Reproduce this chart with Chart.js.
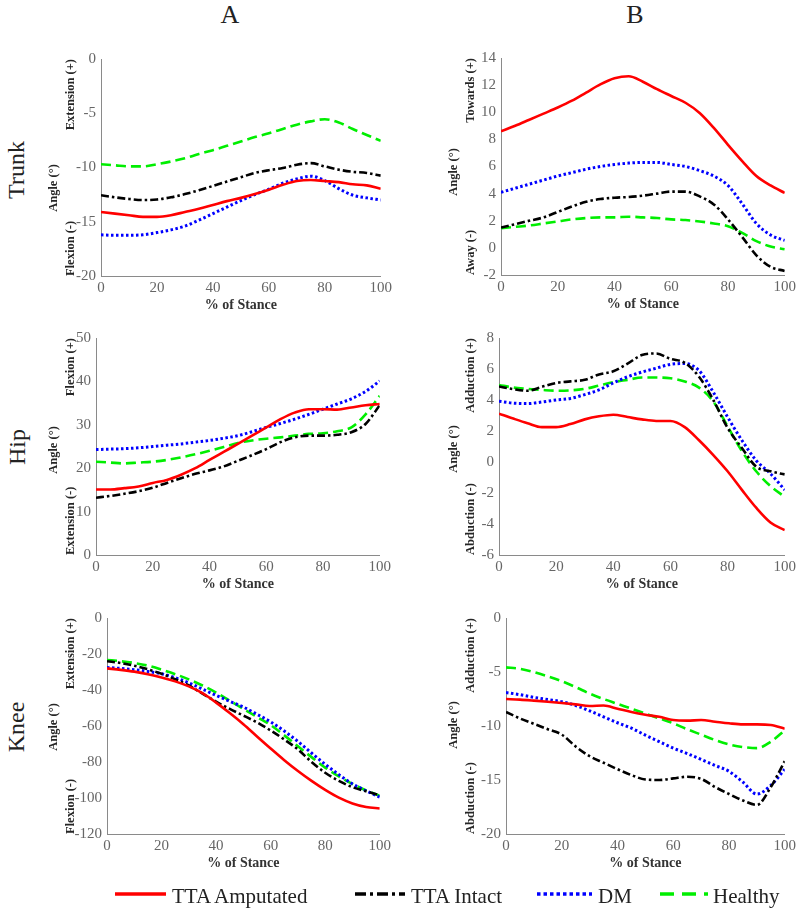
<!DOCTYPE html>
<html>
<head>
<meta charset="utf-8">
<script src="https://cdn.jsdelivr.net/npm/chart.js@4"></script>
<style>
    body { margin: 0; background: #fff; }
    #page { position: relative; width: 800px; height: 909px; overflow: hidden; font-family: 'Liberation Serif', 'Times New Roman', serif; }
    #page canvas { position: absolute; }
    .hdr { position: absolute; font-size: 26px; color: #222; transform: translate(-50%, -50%); white-space: nowrap; }
    .row { position: absolute; font-size: 24px; color: #222; transform: translate(-50%, -50%) rotate(-90deg); white-space: nowrap; }
    .leg { position: absolute; font-size: 21px; color: #222; line-height: 24px; white-space: nowrap; }
</style>
</head>
<body>
<div id="page"></div>
<script>
// x positions (% of stance)
const stance = [0, 5, 10, 15, 20, 25, 30, 35, 40, 45, 50, 55, 60, 65, 70, 75, 80, 85, 90, 95, 100];
const xTicks = [0, 20, 40, 60, 80, 100];

const seriesNames = ['TTA Amputated', 'TTA Intact', 'DM', 'Healthy'];

// Trunk - A (sagittal)
const trunkA_amp = [-14.1, -14.25, -14.4, -14.55, -14.55, -14.4, -14.1, -13.8, -13.45, -13.1, -12.8, -12.45, -12.05, -11.6, -11.25, -11.15, -11.25, -11.35, -11.55, -11.65, -11.95];
const trunkA_int = [-12.55, -12.75, -12.9, -13.0, -12.95, -12.75, -12.45, -12.1, -11.7, -11.3, -10.9, -10.5, -10.25, -10.05, -9.75, -9.6, -9.9, -10.2, -10.4, -10.5, -10.75];
const trunkA_dm = [-16.2, -16.25, -16.25, -16.2, -16.0, -15.75, -15.4, -14.85, -14.25, -13.65, -13.05, -12.5, -12.0, -11.45, -11.05, -10.8, -11.2, -11.95, -12.55, -12.8, -13.0];
const trunkA_healthy = [-9.7, -9.8, -9.9, -9.9, -9.7, -9.45, -9.15, -8.75, -8.4, -8.0, -7.6, -7.2, -6.85, -6.45, -6.05, -5.75, -5.55, -5.85, -6.45, -7.0, -7.55];

// Trunk - B (frontal)
const trunkB_amp = [8.6, 9.0, 9.45, 9.9, 10.35, 10.85, 11.45, 12.05, 12.5, 12.65, 12.25, 11.7, 11.2, 10.7, 9.95, 8.85, 7.6, 6.4, 5.3, 4.6, 4.05];
const trunkB_int = [1.5, 1.75, 2.0, 2.25, 2.65, 3.05, 3.4, 3.6, 3.7, 3.75, 3.85, 4.0, 4.15, 4.15, 3.8, 3.2, 2.1, 0.8, -0.55, -1.4, -1.7];
const trunkB_dm = [4.1, 4.4, 4.7, 5.0, 5.3, 5.55, 5.8, 6.0, 6.15, 6.25, 6.3, 6.3, 6.15, 6.0, 5.7, 5.3, 4.6, 3.25, 1.8, 0.95, 0.55];
const trunkB_healthy = [1.45, 1.55, 1.65, 1.8, 1.95, 2.1, 2.2, 2.25, 2.25, 2.3, 2.25, 2.2, 2.1, 2.05, 1.95, 1.8, 1.6, 1.1, 0.5, 0.1, -0.1];

// Hip - A
const hipA_amp = [15.1, 15.1, 15.4, 15.8, 16.6, 17.3, 18.5, 20.0, 21.9, 23.75, 25.6, 27.5, 29.4, 31.3, 32.8, 33.6, 33.6, 33.5, 34.0, 34.5, 34.8];
const hipA_int = [13.2, 13.6, 14.1, 14.7, 15.5, 16.6, 17.7, 18.7, 19.5, 20.4, 21.7, 23.0, 24.4, 26.0, 27.1, 27.5, 27.5, 27.7, 28.3, 30.2, 34.5];
const hipA_dm = [24.3, 24.4, 24.5, 24.7, 25.0, 25.3, 25.6, 26.0, 26.4, 26.9, 27.5, 28.4, 29.4, 30.3, 31.3, 32.4, 33.6, 34.8, 36.0, 37.7, 40.1];
const hipA_healthy = [21.5, 21.3, 21.1, 21.3, 21.5, 21.9, 22.5, 23.2, 24.0, 24.9, 25.8, 26.4, 26.8, 27.1, 27.5, 27.9, 28.05, 28.5, 29.4, 32.4, 36.7];

// Hip - B
const hipB_amp = [3.12, 2.8, 2.5, 2.25, 2.25, 2.45, 2.75, 2.95, 3.05, 2.9, 2.75, 2.65, 2.65, 2.25, 1.4, 0.45, -0.6, -1.8, -2.95, -3.9, -4.4];
const hipB_int = [4.87, 4.7, 4.6, 4.85, 5.1, 5.2, 5.3, 5.65, 5.85, 6.35, 6.9, 7.0, 6.65, 6.4, 5.5, 4.0, 2.2, 0.9, -0.3, -0.6, -0.8];
const hipB_dm = [3.92, 3.8, 3.77, 3.87, 4.0, 4.1, 4.35, 4.65, 5.1, 5.5, 5.8, 6.05, 6.3, 6.35, 5.9, 4.5, 2.9, 1.4, 0.1, -0.75, -1.8];
const hipB_healthy = [4.97, 4.8, 4.72, 4.65, 4.6, 4.62, 4.72, 4.93, 5.15, 5.3, 5.45, 5.45, 5.4, 5.2, 4.8, 3.9, 2.3, 0.7, -0.6, -1.55, -2.25];

// Knee - A
const kneeA_amp = [-28, -28.8, -29.8, -31.2, -33, -35.2, -38, -41.8, -47, -52.8, -59, -65.8, -72.5, -79, -85, -90.5, -95.5, -99.8, -103, -105, -105.8];
const kneeA_int = [-24, -25, -26.5, -28.5, -31, -34, -37.5, -42, -46.5, -50.5, -54.2, -58, -62.5, -67.5, -73, -80, -86, -90.5, -94, -96.3, -98.5];
const kneeA_dm = [-27.5, -28, -28.7, -29.7, -31, -33.2, -36, -39.5, -43, -46.3, -49.5, -53.5, -57.7, -62.8, -68.6, -75, -81.3, -87, -92.2, -96, -99.5];
const kneeA_healthy = [-23.3, -24, -25, -26.5, -28.7, -31.2, -34.1, -37.5, -41.4, -46, -50.5, -55, -59.5, -65.2, -71.3, -77.3, -83.1, -88, -92.2, -95.8, -98.8];

// Knee - B
const kneeB_amp = [-7.5, -7.56, -7.65, -7.75, -7.87, -8.0, -8.15, -8.1, -8.4, -8.7, -8.95, -9.15, -9.45, -9.5, -9.45, -9.6, -9.75, -9.85, -9.85, -9.9, -10.25];
const kneeB_int = [-8.7, -9.3, -9.8, -10.3, -10.8, -11.9, -12.8, -13.4, -14.0, -14.55, -14.95, -15.0, -14.85, -14.7, -14.9, -15.65, -16.3, -16.9, -17.3, -15.65, -13.25];
const kneeB_dm = [-6.9, -7.1, -7.35, -7.55, -7.75, -8.1, -8.6, -9.15, -9.7, -10.2, -10.85, -11.45, -12.05, -12.55, -13.1, -13.65, -14.2, -15.2, -16.3, -15.5, -14.0];
const kneeB_healthy = [-4.57, -4.7, -5.0, -5.4, -5.85, -6.4, -7.0, -7.5, -7.95, -8.4, -8.85, -9.3, -9.75, -10.3, -10.8, -11.3, -11.7, -11.95, -12.05, -11.45, -10.4];

// Line styles for the four groups
const STYLES = [
    { color: '#ff0000', width: 2.6, dash: [], legDash: [] },
    { color: '#000000', width: 2.6, dash: [8, 3, 2.5, 3], legDash: [11, 4, 3, 4] },
    { color: '#0000ff', width: 3, dash: [2.5, 2.5], legDash: [3.5, 3] },
    { color: '#00ee00', width: 2.6, dash: [10, 5], legDash: [14, 8] }
];

const SERIF = "'Liberation Serif', 'Times New Roman', serif";

// Panel layout (page pixels of the plot area; angleY = centre of "Angle (°)")
const panels = [
    { col: 40, left: 101, right: 381, top: 55, bottom: 276, angleY: 188, min: -20, max: 0, step: 5,
      plus: 'Extension (+)', minus: 'Flexion (-)', series: [trunkA_amp, trunkA_int, trunkA_dm, trunkA_healthy] },
    { col: 440, left: 501, right: 785, top: 54, bottom: 275, angleY: 172, min: -2, max: 14, step: 2,
      plus: 'Towards (+)', minus: 'Away (-)', series: [trunkB_amp, trunkB_int, trunkB_dm, trunkB_healthy] },
    { col: 40, left: 96, right: 380, top: 334, bottom: 555, angleY: 450, min: 0, max: 50, step: 10,
      plus: 'Flexion (+)', minus: 'Extension (-)', series: [hipA_amp, hipA_int, hipA_dm, hipA_healthy] },
    { col: 440, left: 499, right: 785, top: 334, bottom: 555, angleY: 449, min: -6, max: 8, step: 2,
      plus: 'Adduction (+)', minus: 'Abduction (-)', series: [hipB_amp, hipB_int, hipB_dm, hipB_healthy] },
    { col: 40, left: 107, right: 380, top: 614, bottom: 834, angleY: 727, min: -120, max: 0, step: 20,
      plus: 'Extension (+)', minus: 'Flexion (-)', series: [kneeA_amp, kneeA_int, kneeA_dm, kneeA_healthy] },
    { col: 440, left: 506, right: 785, top: 614, bottom: 834, angleY: 725, min: -20, max: 0, step: 5,
      plus: 'Adduction (+)', minus: 'Abduction (-)', series: [kneeB_amp, kneeB_int, kneeB_dm, kneeB_healthy] }
];

// Rotated y-axis labels: direction labels plus "Angle (°)"
const sideLabels = {
    id: 'sideLabels',
    afterDraw(chart, args, opts) {
        const { ctx, chartArea } = chart;
        ctx.save();
        ctx.font = 'bold 12.5px ' + SERIF;
        ctx.fillStyle = '#262626';
        ctx.textBaseline = 'middle';
        const drawRot = (text, x, y, align) => {
            ctx.save();
            ctx.translate(x, y);
            ctx.rotate(-Math.PI / 2);
            ctx.textAlign = align;
            ctx.fillText(text, 0, 0);
            ctx.restore();
        };
        drawRot(opts.plus, 31, chartArea.top, 'right');
        drawRot(opts.minus, 31, chartArea.bottom, 'left');
        drawRot('Angle (°)', 14, opts.angleY, 'center');
        ctx.restore();
    }
};

const page = document.getElementById('page');

function makePanel(p) {
    const canvas = document.createElement('canvas');
    const canvasTop = p.top - 10;
    canvas.width = p.right + 14 - p.col;
    canvas.height = p.bottom - p.top + 10 + 42;
    canvas.style.left = p.col + 'px';
    canvas.style.top = canvasTop + 'px';
    page.appendChild(canvas);

    const yWidth = p.left - p.col;

    new Chart(canvas.getContext('2d'), {
        type: 'line',
        data: {
            datasets: p.series.map((vals, i) => ({
                label: seriesNames[i],
                data: stance.map((x, k) => ({ x: x, y: vals[k] })),
                borderColor: STYLES[i].color,
                borderDash: STYLES[i].dash,
                borderWidth: STYLES[i].width,
                pointRadius: 0,
                cubicInterpolationMode: 'monotone',
                fill: false
            }))
        },
        options: {
            responsive: false,
            animation: false,
            layout: { padding: { top: 10, right: 14, left: 0, bottom: 0 } },
            plugins: {
                legend: { display: false },
                tooltip: { enabled: false },
                sideLabels: { plus: p.plus, minus: p.minus, angleY: p.angleY - canvasTop }
            },
            scales: {
                x: {
                    type: 'linear',
                    min: 0,
                    max: 100,
                    afterBuildTicks: s => { s.ticks = xTicks.map(v => ({ value: v })); },
                    ticks: { color: '#666', font: { family: SERIF, size: 15 }, padding: 3, maxRotation: 0 },
                    grid: { display: false, drawTicks: false, tickLength: 0 },
                    border: { display: true, color: '#8a8a8a', width: 1 },
                    title: {
                        display: true,
                        text: '% of Stance',
                        color: '#333',
                        font: { family: SERIF, size: 14, weight: 'bold' },
                        padding: { top: 0, bottom: 4 }
                    },
                    afterFit: s => { s.height = 42; }
                },
                y: {
                    min: p.min,
                    max: p.max,
                    ticks: { stepSize: p.step, color: '#666', font: { family: SERIF, size: 15 }, padding: 5 },
                    grid: { display: false, drawTicks: false, tickLength: 0 },
                    border: { display: true, color: '#8a8a8a', width: 1 },
                    afterFit: s => { s.width = yWidth; }
                }
            }
        },
        plugins: [sideLabels]
    });
}

panels.forEach(makePanel);

// Column headers and row labels
function addText(cls, text, x, y) {
    const d = document.createElement('div');
    d.className = cls;
    d.textContent = text;
    d.style.left = x + 'px';
    d.style.top = y + 'px';
    page.appendChild(d);
}
addText('hdr', 'A', 230, 15);
addText('hdr', 'B', 635, 15);
addText('row', 'Trunk', 16, 170);
addText('row', 'Hip', 17, 447);
addText('row', 'Knee', 16, 727);

// Legend along the bottom
const legendPos = [
    { x1: 115, x2: 166, tx: 172 },
    { x1: 355, x2: 405, tx: 411 },
    { x1: 537, x2: 592, tx: 598 },
    { x1: 660, x2: 708, tx: 713 }
];
const legendY = 894;
const svgNS = 'http://www.w3.org/2000/svg';
const svg = document.createElementNS(svgNS, 'svg');
svg.setAttribute('width', 800);
svg.setAttribute('height', 909);
svg.style.position = 'absolute';
svg.style.left = '0px';
svg.style.top = '0px';
page.appendChild(svg);
legendPos.forEach((lp, i) => {
    const ln = document.createElementNS(svgNS, 'line');
    ln.setAttribute('x1', lp.x1);
    ln.setAttribute('x2', lp.x2);
    ln.setAttribute('y1', legendY);
    ln.setAttribute('y2', legendY);
    ln.setAttribute('stroke', STYLES[i].color);
    ln.setAttribute('stroke-width', 3.5);
    if (STYLES[i].legDash.length) ln.setAttribute('stroke-dasharray', STYLES[i].legDash.join(' '));
    svg.appendChild(ln);

    const t = document.createElement('div');
    t.className = 'leg';
    t.textContent = seriesNames[i];
    t.style.left = lp.tx + 'px';
    t.style.top = (legendY - 10) + 'px';
    page.appendChild(t);
});
</script>
</body>
</html>
